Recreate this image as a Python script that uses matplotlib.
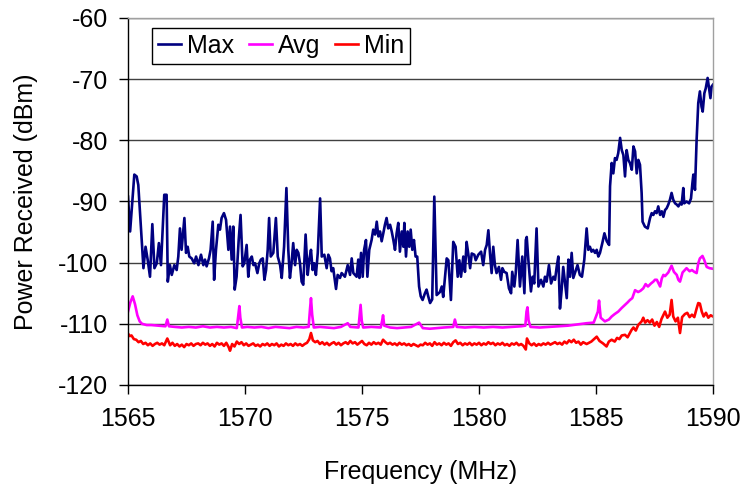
import matplotlib
matplotlib.use("Agg")
import matplotlib.pyplot as plt
import numpy as np

plt.rcParams['font.family'] = ['Liberation Sans', 'DejaVu Sans']
plt.rcParams['axes.unicode_minus'] = False

# ---- data ----
max_freq = [1565.00, 1565.09, 1565.27, 1565.37, 1565.44, 1565.66, 1565.75, 1565.84, 1565.94, 1566.04,
            1566.13, 1566.23, 1566.32, 1566.41, 1566.55, 1566.65, 1566.70, 1566.79, 1566.87, 1566.98,
            1567.08, 1567.15, 1567.22, 1567.29, 1567.41, 1567.48, 1567.55, 1567.62, 1567.72, 1567.83,
            1567.91, 1568.01, 1568.12, 1568.22, 1568.29, 1568.36, 1568.46, 1568.53, 1568.62, 1568.68,
            1568.76, 1568.86, 1568.93, 1569.00, 1569.10, 1569.19, 1569.29, 1569.36, 1569.43, 1569.50,
            1569.56, 1569.64, 1569.73, 1569.81, 1569.90, 1569.97, 1570.07, 1570.14, 1570.21, 1570.29,
            1570.36, 1570.43, 1570.53, 1570.61, 1570.68, 1570.76, 1570.83, 1570.90, 1570.97, 1571.03,
            1571.10, 1571.21, 1571.32, 1571.40, 1571.50, 1571.57, 1571.67, 1571.77, 1571.85, 1571.92,
            1571.99, 1572.06, 1572.14, 1572.21, 1572.28, 1572.35, 1572.42, 1572.49, 1572.59, 1572.68,
            1572.75, 1572.82, 1572.89, 1572.96, 1573.03, 1573.11, 1573.21, 1573.28, 1573.39, 1573.49,
            1573.56, 1573.63, 1573.70, 1573.77, 1573.89, 1573.96, 1574.06, 1574.13, 1574.27, 1574.39,
            1574.49, 1574.56, 1574.63, 1574.70, 1574.77, 1574.84, 1574.89, 1574.96, 1575.03, 1575.09,
            1575.17, 1575.23, 1575.31, 1575.41, 1575.48, 1575.56, 1575.63, 1575.70, 1575.77, 1575.84,
            1575.91, 1575.98, 1576.05, 1576.12, 1576.20, 1576.27, 1576.34, 1576.41, 1576.48, 1576.55,
            1576.62, 1576.70, 1576.77, 1576.81, 1576.88, 1576.95, 1577.02, 1577.08, 1577.15, 1577.22,
            1577.29, 1577.36, 1577.44, 1577.51, 1577.59, 1577.69, 1577.76, 1577.83, 1577.91, 1578.00,
            1578.09, 1578.19, 1578.33, 1578.41, 1578.47, 1578.62, 1578.69, 1578.80, 1578.90, 1579.00,
            1579.09, 1579.16, 1579.23, 1579.33, 1579.40, 1579.47, 1579.54, 1579.62, 1579.69, 1579.80,
            1579.86, 1579.97, 1580.09, 1580.18, 1580.26, 1580.33, 1580.40, 1580.47, 1580.54, 1580.61,
            1580.68, 1580.75, 1580.85, 1580.94, 1581.00, 1581.08, 1581.18, 1581.28, 1581.37, 1581.42,
            1581.51, 1581.57, 1581.65, 1581.75, 1581.85, 1581.94, 1582.00, 1582.04, 1582.11, 1582.22,
            1582.29, 1582.36, 1582.46, 1582.54, 1582.65, 1582.75, 1582.82, 1582.89, 1582.99, 1583.08,
            1583.18, 1583.25, 1583.32, 1583.39, 1583.46, 1583.53, 1583.60, 1583.68, 1583.75, 1583.82,
            1583.89, 1583.96, 1584.03, 1584.10, 1584.21, 1584.31, 1584.40, 1584.50, 1584.60, 1584.67,
            1584.74, 1584.81, 1584.88, 1584.96, 1585.03, 1585.10, 1585.17, 1585.27, 1585.36, 1585.46,
            1585.56, 1585.60, 1585.67, 1585.74, 1585.81, 1585.88, 1585.95, 1586.03, 1586.10, 1586.17,
            1586.24, 1586.31, 1586.38, 1586.45, 1586.53, 1586.60, 1586.67, 1586.74, 1586.81, 1586.88,
            1586.95, 1586.99, 1587.09, 1587.21, 1587.31, 1587.38, 1587.45, 1587.52, 1587.59, 1587.66,
            1587.74, 1587.81, 1587.88, 1587.95, 1588.02, 1588.09, 1588.16, 1588.23, 1588.30, 1588.38,
            1588.45, 1588.52, 1588.59, 1588.66, 1588.73, 1588.77, 1588.87, 1588.98, 1589.06, 1589.12,
            1589.16, 1589.23, 1589.30, 1589.37, 1589.44, 1589.51, 1589.56, 1589.63, 1589.69, 1589.77,
            1589.84, 1589.89, 1589.94, 1590.00]
max_dbm = [-89.2, -94.9, -85.6, -85.9, -87.3, -100.9, -97.4, -99.5, -102.3, -93.7,
           -100.9, -100.1, -96.8, -100.4, -88.9, -88.9, -103.1, -100.4, -102.0, -100.4,
           -101.2, -99.0, -94.4, -97.9, -92.7, -98.4, -97.4, -99.0, -99.3, -100.1,
           -99.0, -100.4, -98.7, -100.4, -99.5, -100.6, -99.3, -97.9, -93.3, -102.8,
           -97.9, -93.8, -94.6, -92.7, -91.9, -93.0, -97.9, -94.1, -99.5, -94.1,
           -104.4, -102.3, -96.3, -92.2, -100.6, -100.1, -97.1, -102.3, -99.5, -99.0,
           -100.4, -100.1, -101.7, -100.1, -99.5, -99.3, -102.8, -101.2, -97.9, -92.7,
           -99.0, -98.4, -92.7, -99.0, -100.4, -102.5, -97.4, -87.8, -97.9, -102.5,
           -100.1, -96.8, -100.4, -97.9, -98.4, -100.1, -103.1, -103.6, -95.4, -102.0,
           -99.5, -97.9, -101.2, -100.1, -102.0, -98.4, -89.5, -99.0, -98.7, -100.9,
           -98.7, -99.3, -101.4, -100.9, -104.3, -102.0, -102.5, -101.7, -102.3, -100.4,
           -102.0, -99.3, -101.7, -102.0, -102.3, -99.5, -102.5, -98.4, -102.3, -97.9,
           -96.3, -102.3, -97.9, -96.3, -94.6, -95.4, -93.3, -95.7, -94.9, -96.5,
           -95.2, -93.8, -92.7, -94.4, -93.8, -94.9, -96.3, -97.9, -95.2, -93.5,
           -98.2, -94.9, -97.4, -93.5, -99.0, -94.9, -97.4, -94.6, -97.9, -96.3,
           -99.0, -99.0, -103.9, -105.5, -106.1, -105.0, -104.4, -105.5, -106.6, -106.0,
           -89.2, -105.3, -104.8, -103.9, -105.6, -99.3, -99.6, -106.1, -96.6, -97.4,
           -102.3, -99.6, -102.3, -99.0, -101.5, -96.6, -98.5, -100.9, -98.5, -98.7,
           -99.6, -98.7, -98.2, -100.4, -97.9, -97.1, -94.7, -98.5, -101.7, -97.4,
           -100.4, -101.7, -100.7, -102.8, -100.9, -101.5, -101.7, -104.2, -105.0, -101.5,
           -103.9, -101.7, -96.3, -103.9, -99.0, -105.0, -96.3, -95.8, -99.6, -104.7,
           -102.3, -103.4, -94.4, -103.9, -102.8, -103.9, -102.3, -103.1, -100.4, -103.4,
           -102.3, -102.8, -100.7, -99.0, -107.5, -104.5, -100.7, -103.4, -105.8, -99.5,
           -102.3, -98.4, -102.5, -101.7, -100.4, -102.0, -102.3, -99.5, -94.4, -97.9,
           -97.4, -98.2, -97.9, -98.4, -97.9, -99.0, -98.4, -96.8, -95.2, -96.5,
           -97.1, -87.5, -83.7, -85.4, -82.9, -83.2, -82.1, -79.6, -81.6, -82.4,
           -85.9, -81.6, -83.2, -83.7, -84.8, -81.0, -81.8, -85.4, -83.2, -84.0,
           -88.6, -93.3, -94.1, -94.4, -92.7, -91.9, -92.2, -91.6, -91.9, -90.8,
           -92.2, -91.6, -92.5, -91.4, -91.1, -90.5, -89.7, -88.6, -89.7, -90.3,
           -90.5, -90.8, -90.3, -90.5, -87.8, -90.3, -90.0, -90.3, -89.5, -87.0,
           -85.6, -88.1, -79.9, -73.9, -72.0, -74.5, -75.3, -72.3, -71.5, -69.8,
           -71.8, -73.1, -71.2, -70.9]

avg_freq = [1565.00, 1565.10, 1565.20, 1565.30, 1565.40, 1565.50, 1565.60, 1565.80, 1566.00, 1566.30,
            1566.60, 1566.68, 1566.75, 1567.00, 1567.30, 1567.60, 1567.90, 1568.20, 1568.50, 1568.80,
            1569.10, 1569.40, 1569.65, 1569.72, 1569.76, 1569.80, 1569.87, 1570.10, 1570.40, 1570.70,
            1571.00, 1571.30, 1571.60, 1571.90, 1572.20, 1572.50, 1572.72, 1572.78, 1572.82, 1572.87,
            1572.94, 1573.20, 1573.50, 1573.80, 1574.10, 1574.39, 1574.50, 1574.85, 1574.90, 1574.94,
            1574.99, 1575.05, 1575.40, 1575.80, 1575.86, 1575.90, 1575.95, 1576.20, 1576.50, 1576.80,
            1577.10, 1577.44, 1577.60, 1577.90, 1578.20, 1578.50, 1578.90, 1578.97, 1579.05, 1579.40,
            1579.80, 1580.20, 1580.60, 1581.00, 1581.40, 1581.80, 1581.98, 1582.03, 1582.07, 1582.12,
            1582.20, 1582.60, 1583.00, 1583.40, 1583.80, 1584.20, 1584.60, 1584.90, 1585.08, 1585.13,
            1585.20, 1585.38, 1585.55, 1585.67, 1585.80, 1585.95, 1586.10, 1586.24, 1586.35, 1586.45,
            1586.55, 1586.67, 1586.80, 1586.90, 1587.02, 1587.12, 1587.22, 1587.35, 1587.45, 1587.52,
            1587.60, 1587.74, 1587.81, 1587.88, 1587.95, 1588.09, 1588.23, 1588.33, 1588.45, 1588.52,
            1588.59, 1588.70, 1588.80, 1588.87, 1589.00, 1589.10, 1589.20, 1589.30, 1589.37, 1589.44,
            1589.55, 1589.62, 1589.73, 1589.85, 1590.00]
avg_dbm = [-108.0, -106.5, -105.5, -106.8, -108.6, -109.6, -110.0, -110.2, -110.2, -110.3,
           -110.4, -109.3, -110.4, -110.5, -110.6, -110.5, -110.6, -110.4, -110.6, -110.5,
           -110.6, -110.5, -110.7, -108.5, -107.1, -109.0, -110.6, -110.5, -110.6, -110.5,
           -110.7, -110.5, -110.6, -110.7, -110.5, -110.6, -110.5, -107.5, -105.8, -108.5,
           -110.6, -110.5, -110.6, -110.7, -110.5, -109.9, -110.5, -110.6, -108.5, -106.9,
           -109.5, -110.6, -110.5, -110.6, -109.5, -108.6, -110.3, -110.6, -110.7, -110.6,
           -110.5, -109.8, -110.7, -110.8, -110.7, -110.6, -110.5, -109.3, -110.5, -110.6,
           -110.5, -110.6, -110.5, -110.6, -110.5, -110.4, -110.3, -108.0, -107.3, -109.5,
           -110.5, -110.6, -110.5, -110.4, -110.3, -110.1, -109.9, -109.8, -108.0, -106.2,
           -109.0, -109.6, -109.3, -108.8, -108.4, -108.0, -107.4, -106.9, -106.5, -106.1,
           -105.8, -104.5, -104.8, -104.6, -104.2, -103.5, -103.9, -103.4, -103.1, -102.8,
           -102.8, -103.9, -102.6, -102.0, -102.2, -101.6, -100.5, -101.5, -102.0, -102.8,
           -103.1, -101.6, -101.2, -100.9, -101.4, -101.2, -101.5, -101.7, -100.1, -99.3,
           -98.9, -99.5, -100.7, -100.9, -101.0]

min_freq = [1565.00, 1565.08, 1565.15, 1565.25, 1565.35, 1565.45, 1565.55, 1565.65, 1565.75, 1565.85,
            1565.95, 1566.05, 1566.15, 1566.25, 1566.35, 1566.45, 1566.55, 1566.68, 1566.80, 1566.90,
            1567.00, 1567.10, 1567.20, 1567.30, 1567.40, 1567.50, 1567.60, 1567.70, 1567.80, 1567.90,
            1568.00, 1568.10, 1568.20, 1568.30, 1568.40, 1568.50, 1568.60, 1568.70, 1568.80, 1568.90,
            1569.00, 1569.10, 1569.20, 1569.30, 1569.36, 1569.45, 1569.55, 1569.65, 1569.75, 1569.85,
            1569.95, 1570.05, 1570.15, 1570.25, 1570.35, 1570.45, 1570.55, 1570.65, 1570.75, 1570.85,
            1570.95, 1571.05, 1571.15, 1571.25, 1571.35, 1571.45, 1571.55, 1571.65, 1571.75, 1571.85,
            1571.95, 1572.05, 1572.15, 1572.25, 1572.35, 1572.45, 1572.55, 1572.65, 1572.75, 1572.82,
            1572.90, 1573.00, 1573.10, 1573.20, 1573.30, 1573.40, 1573.50, 1573.60, 1573.70, 1573.80,
            1573.90, 1574.00, 1574.10, 1574.20, 1574.30, 1574.40, 1574.50, 1574.60, 1574.70, 1574.80,
            1574.90, 1575.00, 1575.10, 1575.20, 1575.30, 1575.40, 1575.50, 1575.60, 1575.70, 1575.80,
            1575.90, 1576.00, 1576.10, 1576.20, 1576.30, 1576.40, 1576.50, 1576.60, 1576.70, 1576.80,
            1576.90, 1577.00, 1577.10, 1577.20, 1577.30, 1577.40, 1577.50, 1577.60, 1577.70, 1577.80,
            1577.90, 1578.00, 1578.10, 1578.20, 1578.30, 1578.40, 1578.50, 1578.60, 1578.70, 1578.80,
            1578.90, 1579.00, 1579.10, 1579.20, 1579.30, 1579.40, 1579.50, 1579.60, 1579.70, 1579.80,
            1579.90, 1580.00, 1580.10, 1580.20, 1580.30, 1580.40, 1580.50, 1580.60, 1580.70, 1580.80,
            1580.90, 1581.00, 1581.10, 1581.20, 1581.30, 1581.40, 1581.50, 1581.60, 1581.70, 1581.80,
            1581.90, 1582.00, 1582.05, 1582.15, 1582.25, 1582.35, 1582.45, 1582.55, 1582.65, 1582.75,
            1582.85, 1582.95, 1583.05, 1583.15, 1583.25, 1583.35, 1583.45, 1583.55, 1583.65, 1583.75,
            1583.85, 1583.95, 1584.05, 1584.15, 1584.25, 1584.35, 1584.45, 1584.60, 1584.80, 1585.03,
            1585.15, 1585.30, 1585.45, 1585.55, 1585.67, 1585.80, 1585.90, 1586.00, 1586.10, 1586.24,
            1586.35, 1586.45, 1586.52, 1586.60, 1586.70, 1586.80, 1586.95, 1587.02, 1587.10, 1587.20,
            1587.30, 1587.40, 1587.50, 1587.60, 1587.70, 1587.80, 1587.95, 1588.05, 1588.15, 1588.23,
            1588.30, 1588.40, 1588.50, 1588.59, 1588.68, 1588.80, 1588.90, 1589.00, 1589.10, 1589.20,
            1589.30, 1589.37, 1589.44, 1589.52, 1589.60, 1589.70, 1589.80, 1589.90, 1590.00]
min_dbm = [-111.6, -112.0, -111.9, -112.5, -112.6, -113.0, -112.8, -113.3, -113.1, -113.5,
           -113.2, -113.6, -113.3, -113.1, -113.4, -113.2, -113.5, -112.4, -113.5, -113.1,
           -113.6, -113.3, -113.7, -113.4, -113.8, -113.3, -113.5, -113.2, -113.6, -113.3,
           -113.2, -113.5, -113.1, -113.4, -113.2, -113.6, -113.3, -113.7, -113.1, -113.4,
           -113.2, -113.6, -113.1, -113.8, -114.4, -113.3, -113.7, -112.9, -113.3, -113.0,
           -113.5, -113.2, -113.6, -113.4, -113.2, -113.6, -113.4, -113.7, -113.3, -113.5,
           -113.2, -113.6, -113.3, -113.5, -113.2, -113.7, -113.4, -113.6, -113.2, -113.5,
           -113.3, -113.6, -113.2, -113.5, -113.3, -113.6, -113.3, -113.1, -112.5, -111.5,
           -112.7, -113.0, -112.8, -113.3, -113.0, -113.4, -113.1, -113.5, -113.2, -113.0,
           -113.4, -113.1, -113.5, -113.2, -113.0, -113.3, -112.8, -113.2, -113.0, -113.4,
           -113.1, -112.8, -113.3, -113.5, -113.1, -113.4, -113.0, -113.3, -113.1, -113.4,
           -112.6, -113.0, -113.3, -113.1, -113.4, -113.2, -113.5, -113.1, -113.4, -113.2,
           -113.5, -113.3, -113.6, -113.3, -113.5, -113.7, -113.4, -113.5, -113.1, -113.4,
           -113.2, -113.6, -113.0, -113.4, -113.2, -113.5, -113.1, -113.4, -113.2, -113.6,
           -113.0, -112.7, -113.3, -113.1, -113.5, -113.2, -113.4, -113.1, -113.5, -113.2,
           -113.4, -113.1, -113.5, -113.2, -113.4, -113.0, -113.3, -113.1, -113.5, -113.2,
           -113.4, -113.1, -113.5, -113.3, -113.6, -113.2, -113.4, -113.1, -113.5, -113.3,
           -113.6, -114.2, -112.4, -113.2, -113.5, -113.2, -113.6, -113.3, -113.5, -113.2,
           -113.4, -113.1, -113.4, -113.2, -113.0, -113.3, -113.1, -113.4, -112.9, -113.2,
           -112.7, -113.0, -112.6, -113.1, -112.9, -113.4, -113.0, -113.3, -112.9, -112.1,
           -112.8, -113.2, -113.7, -112.9, -112.6, -112.9, -112.3, -112.5, -111.9, -111.8,
           -112.2, -111.5, -111.0, -110.6, -111.1, -110.2, -109.6, -109.0, -109.8, -109.4,
           -109.8, -109.3, -110.3, -109.7, -110.5, -109.2, -108.0, -109.0, -108.5, -106.1,
           -108.8, -109.6, -109.0, -111.5, -108.9, -108.4, -108.2, -108.9, -108.5, -108.9,
           -107.5, -106.6, -106.7, -108.0, -108.8, -108.2, -109.0, -108.6, -108.8]

y_ticks = [-120, -110, -100, -90, -80, -70, -60]
x_ticks = [1565, 1570, 1575, 1580, 1585, 1590]

fig = plt.figure(figsize=(7.45, 4.9), dpi=100)
ax = fig.add_axes([128/745, 105/490, 585/745, 367/490])

ax.plot(max_freq, max_dbm, color='#000080', lw=1.9, label='Max')
ax.plot(avg_freq, avg_dbm, color='#FF00FF', lw=1.9, label='Avg')
ax.plot(min_freq, min_dbm, color='#FF0000', lw=1.9, label='Min')

ax.set_xlim(1565, 1590)
ax.set_ylim(-120, -60)
ax.set_xticks(x_ticks)
ax.set_yticks(y_ticks)
ax.yaxis.grid(True, color='#404040', lw=1)
ax.set_axisbelow(True)

for side in ['left', 'bottom']:
    ax.spines[side].set_color('black')
    ax.spines[side].set_linewidth(1)
for side in ['top', 'right']:
    ax.spines[side].set_color('#A0A0A0')
    ax.spines[side].set_linewidth(1)

ax.tick_params(axis='both', direction='out', length=6.5, width=1, labelsize=18)
ax.tick_params(axis='y', pad=8)
ax.tick_params(axis='x', pad=9)

ax.set_xlabel('Frequency (MHz)', fontsize=18, labelpad=21)
ax.set_ylabel('Power Received (dBm)', fontsize=18, labelpad=14)

leg = ax.legend(loc='upper left', bbox_to_anchor=(0.041, 0.973), ncol=3, fontsize=18,
                frameon=True, fancybox=False, framealpha=1, edgecolor='black',
                handlelength=0.9, handletextpad=0.25, columnspacing=0.6,
                borderpad=0.25, borderaxespad=0)
leg.get_frame().set_linewidth(1)

fig.savefig('out.png', dpi=100)
